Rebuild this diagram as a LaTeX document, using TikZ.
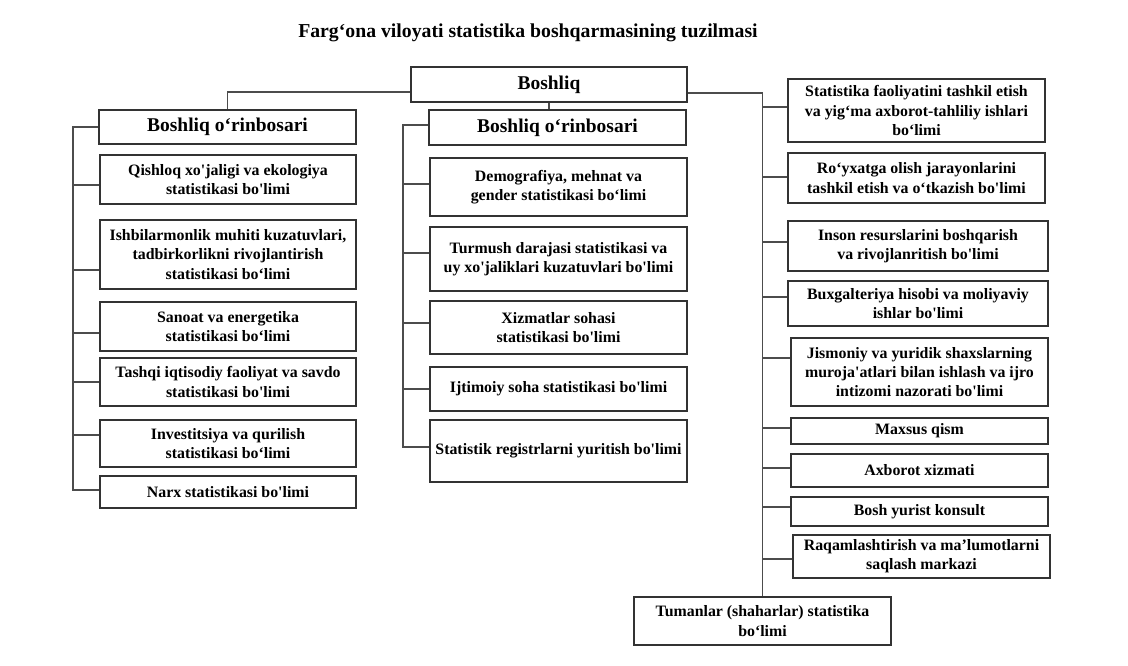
\documentclass[tikz,border=0pt]{standalone}
\usepackage{fontspec}
\setmainfont{Liberation Serif}[Ligatures=TeXOff]
\usetikzlibrary{calc}
\tikzset{
  box/.style={draw=black!80, line width=0.9pt, fill=white, align=center, inner sep=0pt,
    font=\fontsize{11.9}{14.4}\selectfont\bfseries},
  bigbox/.style={box, font=\fontsize{14.6}{16}\selectfont\bfseries},
  conn/.style={draw=black!70, line width=0.9pt},
  ttl/.style={font=\fontsize{14.8}{17}\selectfont\bfseries}
}
\newcommand\bx[7][box]{\node[#1, minimum width=#5*0.75pt, minimum height=#6*0.75pt] (#2) at (#3,#4) {#7};}
\newcommand\branch[3]{\coordinate (tmp) at ($(#1.west)+(0,#2)$); \draw[conn] (tmp) -- (tmp -| #3);}
\begin{document}
\begin{tikzpicture}[x=0.75pt,y=-0.75pt]
\useasboundingbox (0,0) rectangle (1128,665);
\node[ttl] (title) at (528,33) {Farg‘ona viloyati statistika boshqarmasining tuzilmasi};
% head
\bx[bigbox]{boss}{549}{84.5}{276}{35}{Boshliq}
\bx[bigbox]{dep1}{227.5}{127}{257}{34}{Boshliq o‘rinbosari}
\bx[bigbox]{dep2}{557.5}{127.5}{257}{35}{Boshliq o‘rinbosari}
% left column
\bx{L1}{228}{179.5}{256}{49}{Qishloq xo'jaligi va ekologiya\\statistikasi bo'limi}
\bx{L2}{228}{254.5}{256}{69}{Ishbilarmonlik muhiti kuzatuvlari,\\tadbirkorlikni rivojlantirish\\statistikasi bo‘limi}
\bx{L3}{228}{326.5}{256}{49}{Sanoat va energetika\\statistikasi bo‘limi}
\bx{L4}{228}{382}{256}{48}{Tashqi iqtisodiy faoliyat va savdo\\statistikasi bo'limi}
\bx{L5}{228}{443.5}{256}{47}{Investitsiya va qurilish\\statistikasi bo‘limi}
\bx{L6}{228}{492}{256}{32}{Narx statistikasi bo'limi}
% middle column
\bx{M1}{558.5}{187}{257}{58}{Demografiya, mehnat va\\gender statistikasi bo‘limi}
\bx{M2}{558.5}{259}{257}{64}{Turmush darajasi statistikasi va\\uy xo'jaliklari kuzatuvlari bo'limi}
\bx{M3}{558.5}{327.5}{257}{53}{Xizmatlar sohasi\\statistikasi bo'limi}
\bx{M4}{558.5}{389}{257}{44}{Ijtimoiy soha statistikasi bo'limi}
\bx{M5}{558.5}{451}{257}{62}{Statistik registrlarni yuritish bo'limi}
% right column
\bx{R1}{916.5}{110.5}{257}{63}{Statistika faoliyatini tashkil etish\\va yig‘ma axborot-tahliliy ishlari\\bo‘limi}
\bx{R2}{916.5}{178}{257}{50}{Ro‘yxatga olish jarayonlarini\\tashkil etish va o‘tkazish bo'limi}
\bx{R3}{918}{246}{260}{50}{Inson resurslarini boshqarish\\va rivojlanritish bo'limi}
\bx{R4}{918}{303.5}{260}{45}{Buxgalteriya hisobi va moliyaviy\\ishlar bo'limi}
\bx{R5}{919.5}{372}{257}{68}{Jismoniy va yuridik shaxslarning\\muroja'atlari bilan ishlash va ijro\\intizomi nazorati bo'limi}
\bx{R6}{919.5}{431}{257}{26}{Maxsus qism}
\bx{R7}{919.5}{470.5}{257}{33}{Axborot xizmati}
\bx{R8}{919.5}{511.5}{257}{29}{Bosh yurist konsult}
\bx{R9}{921.5}{556.5}{257}{43}{Raqamlashtirish va ma’lumotlarni\\saqlash markazi}
\bx{tum}{762.5}{621}{257}{48}{Tumanlar (shaharlar) statistika\\bo‘limi}
% spine coordinates
\coordinate (lsp) at (73,128);
\coordinate (msp) at (403,125);
\coordinate (rsp) at (762,93);
% connectors from head
\draw[conn] ($(boss.west)+(0,7.5)$) -| (dep1.north);
\draw[conn] (boss.south) -- (boss.south |- dep2.north);
\draw[conn] ($(boss.east)+(0,8.5)$) -| (tum.north);
% left spine
\draw[conn] (dep1.west) -- (dep1.west -| lsp) |- ($(L6.west)+(0,-2)$);
\branch{L1}{5.5}{lsp}
\branch{L2}{15.5}{lsp}
\branch{L3}{6.5}{lsp}
\branch{L4}{0}{lsp}
\branch{L5}{-8.5}{lsp}
% middle spine
\draw[conn] ($(dep2.west)+(0,-2.5)$) -- (msp) |- ($(M5.west)+(0,-4)$);
\branch{M1}{-3}{msp}
\branch{M2}{-6}{msp}
\branch{M3}{-4.5}{msp}
\branch{M4}{0}{msp}
% right spine
\branch{R1}{-3.5}{rsp}
\branch{R2}{-1}{rsp}
\branch{R3}{-4}{rsp}
\branch{R4}{-6.5}{rsp}
\branch{R5}{-14}{rsp}
\branch{R6}{-3}{rsp}
\branch{R7}{-2.5}{rsp}
\branch{R8}{-4.5}{rsp}
\branch{R9}{2.5}{rsp}
\end{tikzpicture}
\end{document}
